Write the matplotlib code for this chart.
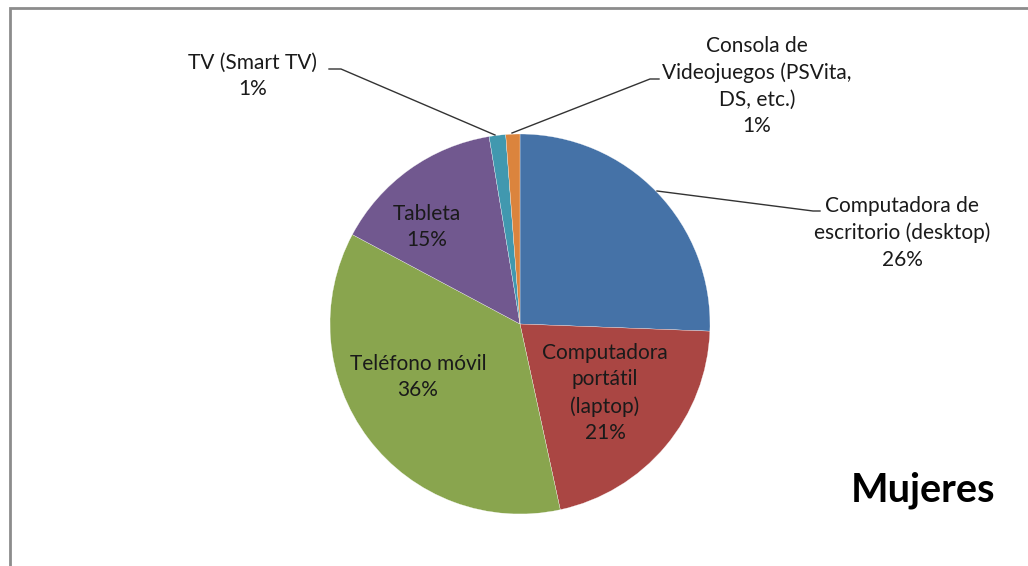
import matplotlib.pyplot as plt

# -----------------------------------
# Data
# -----------------------------------
categories = [
    "Computadora de\nescritorio (desktop)",
    "Computadora\nportátil\n(laptop)",
    "Teléfono móvil",
    "Tableta",
    "TV (Smart TV)",
    "Consola de\nVideojuegos (PSVita,\nDS, etc.)",
]
values = [25.6, 21.0, 36.2, 14.6, 1.4, 1.2]
colors = ["#4572A7", "#AA4643", "#89A54E", "#71588F", "#4198AF", "#DB843D"]

W, H = 1028, 566
FONT = "Lato"

fig = plt.figure(figsize=(W / 100, H / 100), dpi=100)
ax = fig.add_axes([0, 0, 1, 1])
ax.set_xlim(0, W)
ax.set_ylim(0, H)
ax.set_aspect("equal")
ax.axis("off")

cx, cy, r = 520, H - 324, 190

wedges, _ = ax.pie(
    values,
    colors=colors,
    startangle=90,
    counterclock=False,
    center=(cx, cy),
    radius=r,
    wedgeprops=dict(edgecolor="white", linewidth=0.2),
)
ax.set_xlim(0, W)
ax.set_ylim(0, H)

labels = [f"{c}\n{round(v)}%" for c, v in zip(categories, values)]

# label positions in pixel coords (y from top)
label_pos = [(902, 233), (605, 393), (418, 377), (427, 227), (253, 76), (757, 86)]
for lab, (x, y) in zip(labels, label_pos):
    ax.text(x, H - y, lab, ha="center", va="center", fontsize=15,
            family=FONT, color="#1a1a1a", linespacing=1.4)

# leader lines
leaders = [
    [(657, 191), (813, 211), (820, 211)],
    [(329, 69), (341, 69), (495, 135)],
    [(512, 133), (650, 79), (659, 79)],
]
for pts in leaders:
    xs = [p[0] for p in pts]
    ys = [H - p[1] for p in pts]
    ax.plot(xs, ys, color="#333333", linewidth=1)

ax.text(923, H - 490, "Mujeres", ha="center", va="center", fontsize=28.5,
        fontweight="bold", family=FONT, color="black")

# chart frame (top and left edges visible)
ax.plot([10, 10, W], [0, H - 8, H - 8], color="#8c8c8c", linewidth=2,
        solid_joinstyle="miter")

fig.savefig("out.png", dpi=100)
